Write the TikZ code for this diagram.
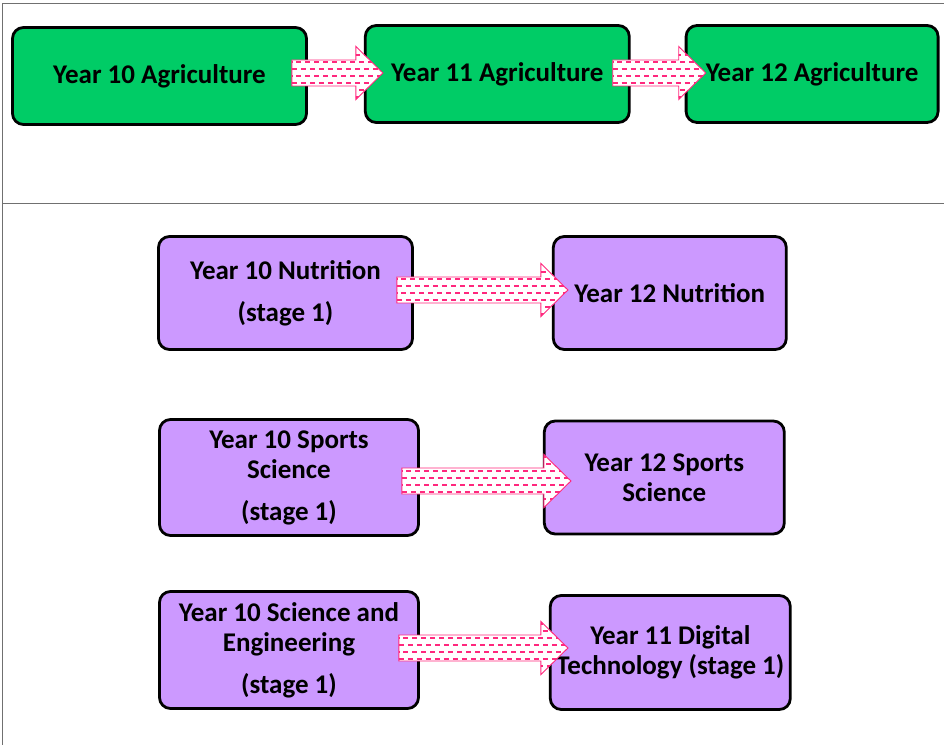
\documentclass[tikz,border=0pt]{standalone}
\usepackage{fontspec}
\setmainfont{Carlito}
\usetikzlibrary{positioning, calc}
\definecolor{boxgreen}{RGB}{0,204,102}
\definecolor{boxpurple}{RGB}{204,153,255}
\definecolor{arrowpink}{RGB}{255,40,125}
\definecolor{framegray}{RGB}{112,112,112}
\tikzstyle{box} = [rectangle, rounded corners = 11pt, draw = black,
  line width = 2.8pt, text centered, align = center, inner sep = 0,
  font = \fontsize{27}{30}\selectfont\bfseries]
\tikzstyle{greenbox} = [box, fill = boxgreen, minimum height = 97pt]
\tikzstyle{purplebox} = [box, fill = boxpurple]
\tikzstyle{dashrow} = [arrowpink, line width = 2pt, dash pattern = on 5pt off 4pt]
\tikzstyle{bigarrow} = [
  draw = arrowpink, line width = 0.9pt, fill = white,
  path picture = {
    \foreach \d in {-24.5, -10.5, 3.5, 17.5}
      \draw [dashrow] ([yshift = \d pt]path picture bounding box.west) --
        ([yshift = \d pt]path picture bounding box.east);
    \foreach \d in {-17.5, -3.5, 10.5, 24.5}
      \draw [dashrow, dash phase = 4.5pt] ([yshift = \d pt]path picture bounding box.west) --
        ([yshift = \d pt]path picture bounding box.east);
  }
]
\newcommand{\bigarrow}[2]{%
  \draw [bigarrow] let \p1 = (#1), \p2 = (#2) in
    (\x1, \y1 + 13pt) -- (\x2 - 27pt, \y1 + 13pt) -- (\x2 - 27pt, \y1 + 26.5pt) --
    (\x2, \y1) -- (\x2 - 27pt, \y1 - 26.5pt) -- (\x2 - 27pt, \y1 - 13pt) --
    (\x1, \y1 - 13pt) -- cycle;}

\begin{document}
\begin{tikzpicture}[x = 1pt, y = 1pt]
      \useasboundingbox (0, 0) rectangle (944, 745);
      % frame
      \draw [framegray, line width = 1pt] (944, 741) -- (2, 741) -- (2, 0);
      \draw [framegray, line width = 1pt] (2, 541) -- (944, 541);
      % agriculture
      \node [greenbox, minimum width = 294pt] (agri-10) at (159.5, 669) {Year 10 Agriculture};
      \node [greenbox, minimum width = 264pt, right = 56pt of agri-10, yshift = 2pt] (agri-11) {Year 11 Agriculture};
      \node [greenbox, minimum width = 252pt, right = 54pt of agri-11] (agri-12) {Year 12 Agriculture};
      % nutrition
      \node [purplebox, minimum width = 254pt, minimum height = 113pt] (nutr-10) at (285.5, 452)
        {Year 10 Nutrition\\[12pt](stage 1)};
      \node [purplebox, minimum width = 233pt, minimum height = 113pt, right = 138pt of nutr-10] (nutr-12)
        {Year 12 Nutrition};
      % sports science
      \node [purplebox, minimum width = 259pt, minimum height = 116pt] (sport-10) at (289, 267.5)
        {Year 10 Sports\\Science\\[12pt](stage 1)};
      \node [purplebox, minimum width = 240pt, minimum height = 113pt, right = 123pt of sport-10] (sport-12)
        {Year 12 Sports\\Science};
      % science and engineering
      \node [purplebox, minimum width = 259pt, minimum height = 117pt] (sci-10) at (289, 95)
        {Year 10 Science and\\Engineering\\[12pt](stage 1)};
      \node [purplebox, minimum width = 240pt, minimum height = 114pt, right = 129pt of sci-10, yshift = -2.5pt] (digi-11)
        {Year 11 Digital\\Technology (stage 1)};

      \coordinate (a1-s) at ([xshift = -16pt, yshift = 3pt]agri-10.east);
      \coordinate (a1-t) at ([xshift = 19pt]agri-11.west);
      \coordinate (a2-s) at ([xshift = -18pt, yshift = 1pt]agri-11.east);
      \coordinate (a2-t) at ([xshift = 21pt]agri-12.west);
      \coordinate (a3-s) at ([xshift = -17pt, yshift = 3pt]nutr-10.east);
      \coordinate (a3-t) at ([xshift = 16pt]nutr-12.west);
      \coordinate (a4-s) at ([xshift = -18pt, yshift = -3.5pt]sport-10.east);
      \coordinate (a4-t) at ([xshift = 28pt]sport-12.west);
      \coordinate (a5-s) at ([xshift = -21pt, yshift = 2pt]sci-10.east);
      \coordinate (a5-t) at ([xshift = 19pt]digi-11.west);
      \bigarrow{a1-s}{a1-t}
      \bigarrow{a2-s}{a2-t}
      \bigarrow{a3-s}{a3-t}
      \bigarrow{a4-s}{a4-t}
      \bigarrow{a5-s}{a5-t}
    \end{tikzpicture}
\end{document}
